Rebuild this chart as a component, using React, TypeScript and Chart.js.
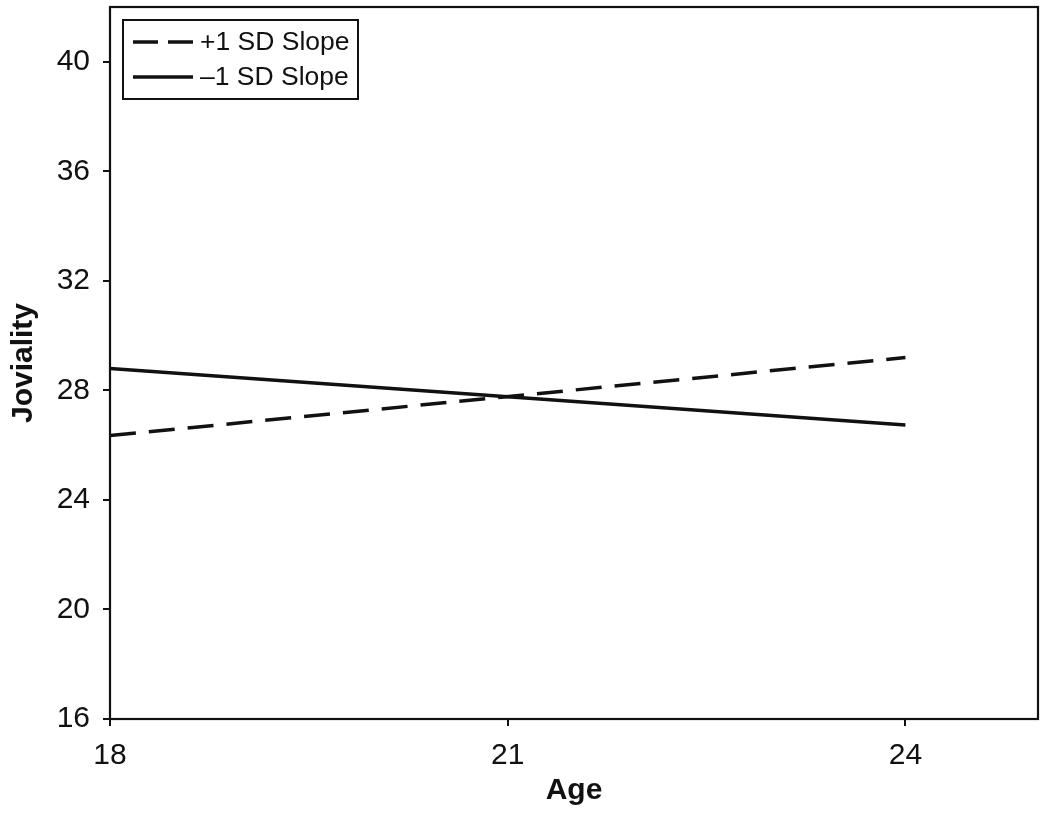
import React, { useEffect, useRef } from "react";
import Chart from "chart.js/auto";

const ages = [18, 24];
const plusSlope = [26.35, 29.2];
const minusSlope = [28.8, 26.74];
const seriesLabels = ["+1 SD Slope", "\u20131 SD Slope"];
const yTicks = [16, 20, 24, 28, 32, 36, 40];
const xTicks = [18, 21, 24];

const FONT = "'Liberation Sans', Arial, Helvetica, sans-serif";

const framePlugin = {
  id: "frameAndLegend",
  afterDraw(chart: any) {
    const { ctx, chartArea } = chart;
    ctx.save();
    ctx.strokeStyle = "#111";
    ctx.lineWidth = 2.2;
    ctx.strokeRect(chartArea.left, chartArea.top, chartArea.right - chartArea.left, chartArea.bottom - chartArea.top);

    // legend box
    const bx = chartArea.left + 13;
    const by = chartArea.top + 13;
    const bw = 235;
    const bh = 79;
    ctx.lineWidth = 2;
    ctx.strokeRect(bx, by, bw, bh);
    const rows = [by + 22, by + 57];
    chart.data.datasets.forEach((ds: any, i: number) => {
      const y = rows[i];
      ctx.beginPath();
      ctx.lineWidth = 3.5;
      ctx.lineCap = "butt";
      ctx.setLineDash(ds.borderDash && ds.borderDash.length ? [25, 10] : []);
      ctx.moveTo(bx + 10, y);
      ctx.lineTo(bx + 70, y);
      ctx.stroke();
      ctx.setLineDash([]);
      ctx.fillStyle = "#111";
      ctx.font = `26.5px ${FONT}`;
      ctx.textBaseline = "middle";
      ctx.textAlign = "left";
      ctx.fillText(ds.label, bx + 77, y + 1);
    });
    ctx.restore();
  },
};

export default function App() {
  const ref = useRef<HTMLCanvasElement | null>(null);
  useEffect(() => {
    if (!ref.current) return;
    const chart = new Chart(ref.current, {
      type: "line",
      data: {
        datasets: [
          {
            label: seriesLabels[0],
            data: ages.map((a, i) => ({ x: a, y: plusSlope[i] })),
            borderColor: "#111",
            borderWidth: 3.5,
            borderDash: [26, 13],
            borderCapStyle: "butt",
            pointRadius: 0,
            fill: false,
          },
          {
            label: seriesLabels[1],
            data: ages.map((a, i) => ({ x: a, y: minusSlope[i] })),
            borderColor: "#111",
            borderWidth: 3.5,
            borderDash: [],
            pointRadius: 0,
            fill: false,
          },
        ],
      },
      options: {
        responsive: false,
        animation: false,
        layout: { padding: { top: 7, right: 12, left: 0, bottom: 0 } },
        plugins: { legend: { display: false }, tooltip: { enabled: false } },
        scales: {
          x: {
            type: "linear",
            min: 18,
            max: 25,
            afterBuildTicks: (axis: any) => {
              axis.ticks = xTicks.map((v) => ({ value: v }));
            },
            afterFit: (axis: any) => {
              axis.height = 102;
              axis.paddingLeft = 0;
              axis.paddingRight = 0;
            },
            border: { display: false },
            grid: { drawOnChartArea: false, tickLength: 7, color: "#111", lineWidth: 2 },
            ticks: { color: "#111", font: { family: FONT, size: 30 }, padding: 12, maxRotation: 0 },
            title: {
              display: true,
              text: "Age",
              color: "#111",
              font: { family: FONT, size: 30, weight: "bold" },
              padding: { top: 0, bottom: 12 },
            },
          },
          y: {
            type: "linear",
            min: 16,
            max: 42,
            afterBuildTicks: (axis: any) => {
              axis.ticks = yTicks.map((v) => ({ value: v }));
            },
            afterFit: (axis: any) => {
              axis.width = 110;
              axis.paddingTop = 0;
              axis.paddingBottom = 0;
            },
            border: { display: false },
            grid: { drawOnChartArea: false, tickLength: 7, color: "#111", lineWidth: 2 },
            ticks: { color: "#111", font: { family: FONT, size: 30 }, padding: 13 },
            title: {
              display: true,
              text: "Joviality",
              color: "#111",
              font: { family: FONT, size: 30, weight: "bold" },
              padding: { top: 6, bottom: 0 },
            },
          },
        },
      },
      plugins: [framePlugin],
    } as any);
    return () => chart.destroy();
  }, []);
  return (
    <div style={{ position: "absolute", left: 0, top: 0, width: 1050, height: 821, background: "#fff" }}>
      <canvas ref={ref} width={1050} height={821} />
    </div>
  );
}
